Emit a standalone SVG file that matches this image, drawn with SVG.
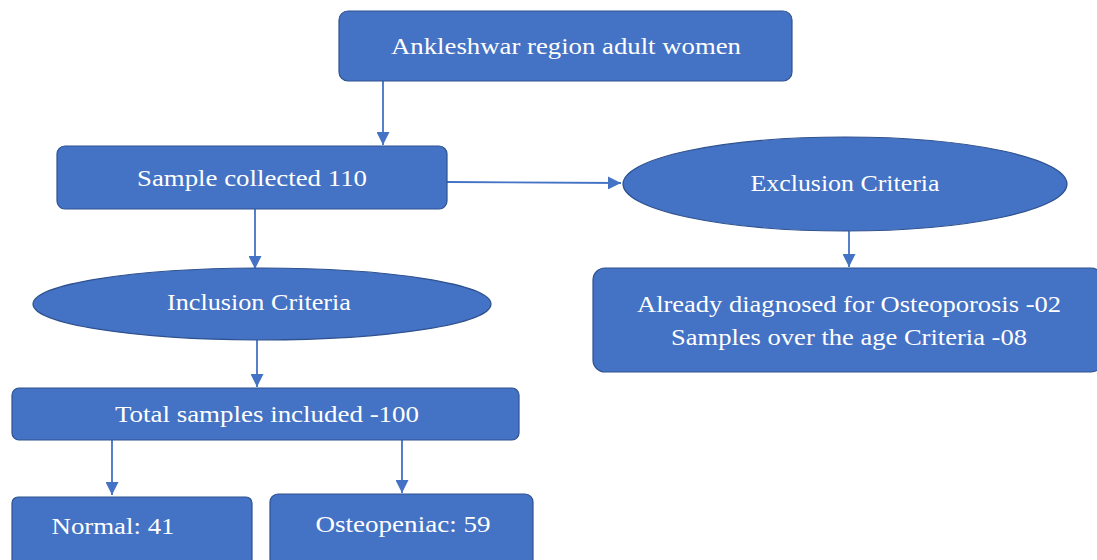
<svg xmlns="http://www.w3.org/2000/svg" width="1097" height="560" viewBox="0 0 1097 560">
<style>
.n{fill:#4472C4;stroke:#2F528F;stroke-width:1.2}
.t{font-family:"Liberation Serif","Times New Roman",serif;font-size:23px;fill:#ffffff;text-anchor:middle}
.c{stroke:#4472C4;stroke-width:1.8;fill:none;marker-end:url(#ah)}
</style>
<defs>
<marker id="ah" viewBox="0 0 10 10" refX="10" refY="5" markerWidth="13" markerHeight="13" markerUnits="userSpaceOnUse" orient="auto">
<path d="M0,0 L10,5 L0,10 Z" fill="#4472C4"/>
</marker>
</defs>
<rect width="1097" height="560" fill="#ffffff"/>
<g id="connectors">
<line class="c" x1="383" y1="81" x2="383" y2="145"/>
<line class="c" x1="447" y1="182" x2="621" y2="183"/>
<line class="c" x1="255" y1="209" x2="255" y2="269"/>
<line class="c" x1="849" y1="231" x2="849" y2="267"/>
<line class="c" x1="257" y1="340" x2="257" y2="387"/>
<line class="c" x1="112" y1="440" x2="112" y2="495"/>
<line class="c" x1="402" y1="440" x2="402" y2="493"/>
</g>
<g id="n1"><rect class="n" x="339" y="11" width="453" height="70" rx="9"/><text class="t" x="566" y="54" textLength="350" lengthAdjust="spacingAndGlyphs">Ankleshwar region adult women</text></g>
<g id="n2"><rect class="n" x="57" y="146" width="390" height="63" rx="8"/><text class="t" x="252" y="186" textLength="230" lengthAdjust="spacingAndGlyphs">Sample collected 110</text></g>
<g id="n3"><ellipse class="n" cx="845" cy="184" rx="222" ry="47"/><text class="t" x="845" y="191" textLength="189" lengthAdjust="spacingAndGlyphs">Exclusion Criteria</text></g>
<g id="n4"><ellipse class="n" cx="262" cy="304" rx="229" ry="36"/><text class="t" x="259" y="310" textLength="184" lengthAdjust="spacingAndGlyphs">Inclusion Criteria</text></g>
<g id="n5"><rect class="n" x="593" y="268" width="510" height="104" rx="12"/><text class="t" x="849" y="312" textLength="424" lengthAdjust="spacingAndGlyphs">Already diagnosed for Osteoporosis -02</text><text class="t" x="849" y="345" textLength="356" lengthAdjust="spacingAndGlyphs">Samples over the age Criteria -08</text></g>
<g id="n6"><rect class="n" x="12" y="388" width="507" height="52" rx="7"/><text class="t" x="267" y="422" textLength="304" lengthAdjust="spacingAndGlyphs">Total samples included -100</text></g>
<g id="n7"><rect class="n" x="12" y="497" width="240" height="70" rx="6"/><text class="t" x="113" y="534" textLength="123" lengthAdjust="spacingAndGlyphs">Normal: 41</text></g>
<g id="n8"><rect class="n" x="270" y="494" width="263" height="73" rx="8"/><text class="t" x="403" y="532" textLength="175" lengthAdjust="spacingAndGlyphs">Osteopeniac: 59</text></g>
</svg>
